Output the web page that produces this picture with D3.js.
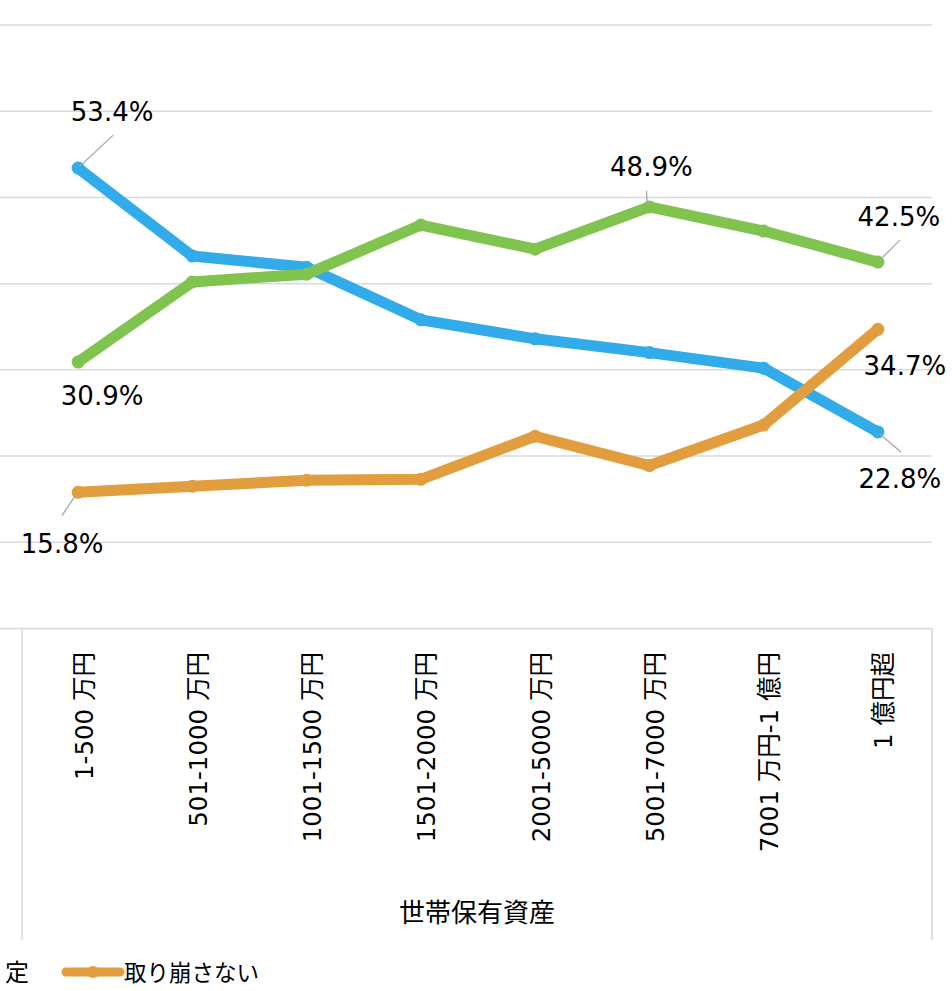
<!DOCTYPE html>
<html><head><meta charset="utf-8">
<script src="https://cdn.jsdelivr.net/npm/d3@7/dist/d3.min.js"></script>
<style>
html,body{margin:0;padding:0;background:#fff;}
svg{display:block;font-family:"DejaVu Sans","Noto Sans CJK JP",sans-serif;}
</style></head>
<body><svg id="c" width="952" height="991"></svg>
<script>
const categories = ["1-500 万円","501-1000 万円","1001-1500 万円","1501-2000 万円","2001-5000 万円","5001-7000 万円","7001 万円-1 億円","1 億円超"];
const seriesBlue   = [53.4, 43.2, 41.9, 35.8, 33.6, 32.0, 30.2, 22.8];
const seriesGreen  = [30.9, 40.2, 41.1, 46.8, 44.0, 48.9, 46.1, 42.5];
const seriesOrange = [15.8, 16.5, 17.2, 17.3, 22.3, 18.9, 23.6, 34.7];
const yTicks = [0,10,20,30,40,50,60,70];
const axisGroupTitle = "世帯保有資産";
const legendFragment = "定";
const legendOrange = "取り崩さない";

const colors = {blue:"#31abe9", green:"#80c34f", orange:"#e29d3f"};
const svg = d3.select("#c");

const x = d3.scaleBand().domain(categories).range([21, 935]);
const cx = c => x(c) + x.bandwidth()/2;
const y = d3.scaleLinear().domain([0,70]).range([628.5, 25]);

// gridlines
svg.append("g").selectAll("line").data(yTicks).join("line")
  .attr("x1",0).attr("x2",932).attr("y1",d=>y(d)).attr("y2",d=>y(d))
  .attr("stroke","#d9d9d9").attr("stroke-width",1.5);

// category axis box
const box = svg.append("g").attr("stroke","#d9d9d9").attr("stroke-width",1.5);
box.append("line").attr("x1",x.range()[0]+1).attr("x2",x.range()[0]+1).attr("y1",y(0)).attr("y2",940);
box.append("line").attr("x1",932).attr("x2",932).attr("y1",y(0)).attr("y2",940);

// category labels
svg.append("g").selectAll("text").data(categories).join("text")
  .attr("transform",d=>`translate(${cx(d)+6},652) rotate(-90)`)
  .attr("text-anchor","end").attr("dominant-baseline","central")
  .attr("font-size",24.5).attr("fill","#000").text(d=>d);

svg.append("text").attr("x",477).attr("y",922).attr("text-anchor","middle")
  .attr("font-size",26).attr("fill","#000").text(axisGroupTitle);

// lines
const series = [
  {vals:seriesBlue, color:colors.blue},
  {vals:seriesGreen, color:colors.green},
  {vals:seriesOrange, color:colors.orange}
];
const line = d3.line().x((d,i)=>cx(categories[i])).y(d=>y(d));
series.forEach(s=>{
  const g = svg.append("g");
  g.append("path").datum(s.vals).attr("d",line).attr("fill","none")
    .attr("stroke",s.color).attr("stroke-width",11).attr("stroke-linejoin","round");
  g.selectAll("circle").data(s.vals).join("circle")
    .attr("cx",(d,i)=>cx(categories[i])).attr("cy",d=>y(d)).attr("r",6.5).attr("fill",s.color);
});

// data labels: [series values, index, label dx, baseline dy, leader end dx, dy]
const labels = [
  [seriesBlue, 0, 34, -47, 35, -33],
  [seriesGreen, 0, 24, 43, null, null],
  [seriesOrange, 0, -16, 61, -16, 23],
  [seriesGreen, 5, 2, -31, -3, -16],
  [seriesGreen, 7, 21, -36, 22, -22],
  [seriesOrange, 7, 27, 46, null, null],
  [seriesBlue, 7, 22, 56, 23, 20]
];
const lg = svg.append("g");
labels.forEach(([vals,i,dx,dy,lx,ly])=>{
  const px = cx(categories[i]), py = y(vals[i]);
  if(lx!==null){
    lg.append("line").attr("x1",px+2*Math.sign(lx)).attr("y1",py+2*Math.sign(ly))
      .attr("x2",px+lx).attr("y2",py+ly).attr("stroke","#a6a6a6").attr("stroke-width",1.3);
  }
  lg.append("text").attr("x",px+dx).attr("y",py+dy).attr("text-anchor","middle")
    .attr("font-size",26).attr("fill","#000").text(vals[i].toFixed(1)+"%");
});

// legend
const leg = svg.append("g");
leg.append("text").attr("x",29).attr("y",981).attr("text-anchor","end")
  .attr("font-size",24).attr("fill","#000").text(legendFragment);
leg.append("line").attr("x1",66).attr("x2",120).attr("y1",972).attr("y2",972)
  .attr("stroke",colors.orange).attr("stroke-width",9).attr("stroke-linecap","round");
leg.append("circle").attr("cx",93).attr("cy",972).attr("r",6).attr("fill",colors.orange);
leg.append("text").attr("x",124).attr("y",981).attr("font-size",22.5).attr("fill","#000").text(legendOrange);
</script></body></html>
